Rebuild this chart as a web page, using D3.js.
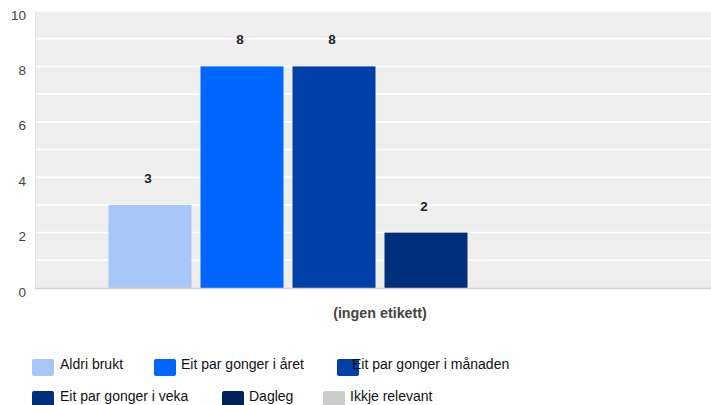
<!DOCTYPE html>
<html>
<head>
<meta charset="utf-8">
<script src="https://cdn.jsdelivr.net/npm/d3@7"></script>
<style>
  html, body { margin: 0; padding: 0; background: #fff; }
  svg { display: block; font-family: "Liberation Sans", Arial, sans-serif; }
</style>
</head>
<body>
<svg id="chart" width="711" height="405"></svg>
<script>
const categories = ["(ingen etikett)"];
const seriesNames = ["Aldri brukt", "Eit par gonger i året", "Eit par gonger i månaden", "Eit par gonger i veka", "Dagleg", "Ikkje relevant"];
const seriesValues = [3, 8, 8, 2, 0, 0];
const seriesColors = ["#a8c6f8", "#0066ff", "#0040a8", "#00307c", "#00215a", "#cccccc"];
const yTicks = [0, 2, 4, 6, 8, 10];

const svg = d3.select("#chart");
const plot = { left: 35, right: 711, top: 11, bottom: 288 };

const y = d3.scaleLinear().domain([0, 10]).range([plot.bottom, plot.top]);
const x0 = d3.scaleBand().domain(categories).range([plot.left, 725]).paddingInner(0).paddingOuter(0.125);
const x1 = d3.scaleBand().domain(seriesNames).range([0, x0.bandwidth()]).paddingInner(0.098).paddingOuter(0.049);

// background
svg.append("rect").attr("x", plot.left).attr("y", plot.top)
  .attr("width", plot.right - plot.left).attr("height", plot.bottom - plot.top)
  .attr("fill", "#eeeeee");

// grid lines every unit
svg.append("g").selectAll("line").data(d3.range(1, 11)).join("line")
  .attr("x1", plot.left).attr("x2", plot.right)
  .attr("y1", d => y(d)).attr("y2", d => y(d))
  .attr("stroke", "#ffffff").attr("stroke-width", 1.5);

// left edge
svg.append("line").attr("x1", plot.left + 0.5).attr("x2", plot.left + 0.5)
  .attr("y1", plot.top).attr("y2", plot.bottom)
  .attr("stroke", "#e2e2e2").attr("stroke-width", 1);

// y tick labels
svg.append("g").selectAll("text").data(yTicks).join("text")
  .attr("x", 26).attr("y", d => y(d) + 5)
  .attr("text-anchor", "end").attr("dominant-baseline", "middle")
  .attr("font-size", 13.5).attr("fill", "#444").text(d => d);

// bars
const data = seriesNames.map((s, i) => ({ cat: categories[0], s, v: seriesValues[i], c: seriesColors[i] }));
const g = svg.append("g");
g.selectAll("rect").data(data).join("rect")
  .attr("x", d => x0(d.cat) + x1(d.s))
  .attr("y", d => y(d.v))
  .attr("width", x1.bandwidth())
  .attr("height", d => y(0) - y(d.v))
  .attr("fill", d => d.c);

// value labels
g.selectAll("text").data(data.filter(d => d.v > 0)).join("text")
  .attr("x", d => x0(d.cat) + x1(d.s) + x1.bandwidth() / 2 - 2)
  .attr("y", d => y(d.v) - 22)
  .attr("text-anchor", "middle")
  .attr("font-size", 13.5).attr("font-weight", "bold").attr("fill", "#222")
  .text(d => d.v);

// bottom axis line
svg.append("line").attr("x1", plot.left).attr("x2", plot.right)
  .attr("y1", plot.bottom + 0.5).attr("y2", plot.bottom + 0.5)
  .attr("stroke", "#d4d4d4").attr("stroke-width", 1.5);

// category label
svg.append("text").attr("x", x0(categories[0]) + x0.bandwidth() / 2).attr("y", 318)
  .attr("text-anchor", "middle").attr("font-size", 14.3).attr("font-weight", "bold")
  .attr("fill", "#444").text(categories[0]);

// legend
const legendPos = [
  { sx: 32, tx: 60, y: 359 },
  { sx: 154, tx: 181, y: 359 },
  { sx: 337, tx: 352, y: 359 },
  { sx: 32, tx: 60, y: 391 },
  { sx: 222, tx: 249, y: 391 },
  { sx: 323, tx: 350, y: 391 }
];
const lg = svg.append("g");
seriesNames.forEach((s, i) => {
  const p = legendPos[i];
  lg.append("rect").attr("x", p.sx).attr("y", p.y).attr("width", 22).attr("height", 17)
    .attr("rx", 2).attr("fill", seriesColors[i]);
  lg.append("text").attr("x", p.tx).attr("y", p.y + 9.5).attr("font-size", 14)
    .attr("fill", "#111").text(s);
});
</script>
</body>
</html>
